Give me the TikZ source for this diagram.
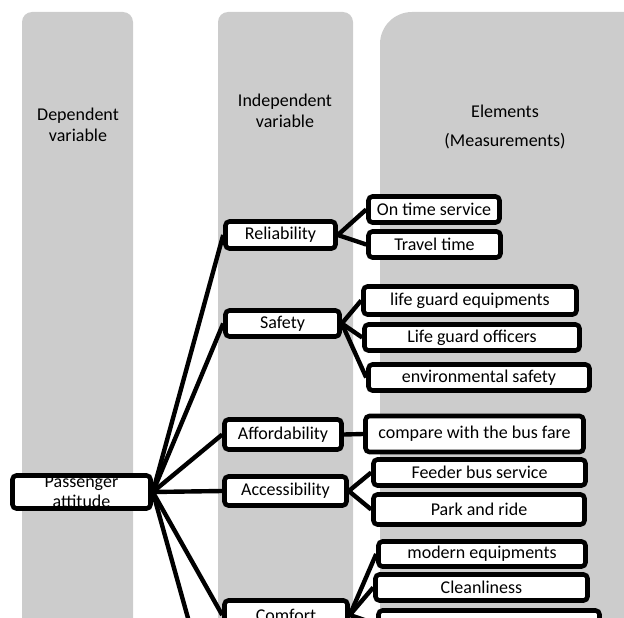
\documentclass[tikz,border=0pt]{standalone}
\usepackage{fontspec}
\setmainfont{Carlito}
\usetikzlibrary{positioning}

\begin{document}
\begin{tikzpicture}[x=1pt, y=-1pt,
					font=\fontsize{18}{21}\selectfont
					]
					\definecolor{bandgray}{RGB}{204,204,204}
					\tikzset{
						colband/.style={fill=bandgray, draw=none},
						headtext/.style={align=center, inner sep=0pt},
						varnode/.style={
							shape=rectangle,
							draw=black,
							line width=4.6pt,
							fill=white,
							rounded corners=4pt,
							inner sep=0pt,
							minimum height=27pt,
							align=center
						},
						linkedge/.style={draw=black, line width=4.4pt}
					}
					\clip (0,0) rectangle (624,618);
					
					% grey columns
					\fill[colband, rounded corners=10pt] (22,12) rectangle (133,680);
					\fill[colband, rounded corners=10pt] (218,12) rectangle (353,680);
					\fill[colband, rounded corners=32pt] (380,12) rectangle (680,680);
					
					\node[headtext] (dephead) at (78,125) {Dependent\\variable};
					\node[headtext] (indhead) at (285,111) {Independent\\variable};
					\node[headtext] (elemhead) at (505,127) {Elements\\[8pt](Measurements)};
					
					% dependent variable
					\node[varnode, minimum width=138pt, minimum height=33pt, font=\fontsize{18}{20}\selectfont] (passenger) at (81.5,492) {Passenger\\attitude};
					
					% independent variables
					\node[varnode, minimum width=110pt] (reliab) at (280.5,235) {Reliability};
					\node[varnode, minimum width=114pt, minimum height=26pt] (safety) at (282.5,323.5) {Safety};
					\node[varnode, minimum width=117pt, minimum height=30pt] (afford) at (283,434.5) {Affordability};
					\node[varnode, minimum width=122pt, minimum height=29pt] (access) at (285.5,491) {Accessibility};
					\node[varnode, minimum width=123pt, minimum height=29pt] (comfort) at (286,615) {Comfort};
					\coordinate (nextvar) at (222,740);
					
					% elements
					\node[varnode, minimum width=131pt, minimum height=26pt] (ontime) at (434,209.5) {On time service};
					\node[varnode, minimum width=132pt, minimum height=26pt] (travel) at (434.5,244.5) {Travel time};
					\node[varnode, minimum width=213pt, minimum height=28pt] (lgequip) at (470,300.5) {life guard equipments};
					\node[varnode, minimum width=215pt, minimum height=26pt] (lgofficer) at (472,337.5) {Life guard officers};
					\node[varnode, minimum width=221pt, minimum height=26pt] (envsafe) at (479,377.5) {environmental safety};
					\node[varnode, minimum width=218pt, minimum height=36pt] (busfare) at (474.5,434) {compare with the bus fare};
					\node[varnode, minimum width=212pt, minimum height=26pt] (feeder) at (479.5,472.5) {Feeder bus service};
					\node[varnode, minimum width=211pt, minimum height=30pt] (parkride) at (479,509.5) {Park and ride};
					\node[varnode, minimum width=207pt, minimum height=25pt] (modern) at (482,554) {modern equipments};
					\node[varnode, minimum width=212pt, minimum height=26pt] (clean) at (481.5,587.5) {Cleanliness};
					\node[varnode, minimum width=221pt, minimum height=27pt] (comfortc) at (489,624) {};
					
					% connectors
					\foreach \var in {reliab,safety,afford,access,comfort}
						\draw[linkedge] (passenger.east) -- (\var.west);
					\draw[linkedge] (passenger.east) -- (nextvar);
					\draw[linkedge] (reliab.east) -- (ontime.west);
					\draw[linkedge] (reliab.east) -- (travel.west);
					\foreach \elem in {lgequip,lgofficer,envsafe}
						\draw[linkedge] (safety.east) -- (\elem.west);
					\draw[linkedge] (afford.east) -- (busfare.west);
					\draw[linkedge] (access.east) -- (feeder.west);
					\draw[linkedge] (access.east) -- (parkride.west);
					\foreach \elem in {modern,clean,comfortc}
						\draw[linkedge] (comfort.east) -- (\elem.west);
\end{tikzpicture}
\end{document}
